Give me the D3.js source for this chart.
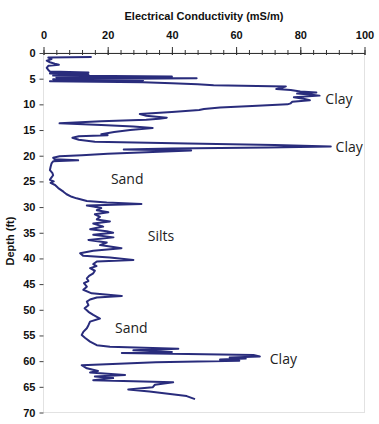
<!DOCTYPE html>
<html>
<head>
<meta charset="utf-8">
<script src="https://cdn.jsdelivr.net/npm/d3@7"></script>
<style>
  html, body { margin: 0; padding: 0; background: #fff; }
  svg { display: block; }
</style>
</head>
<body>
<svg id="chart" width="379" height="424"></svg>
<script>
// ---- Data ----
const depthFt = [
  0.8, 0.9, 1.2, 1.5, 1.8, 2.1, 2.3, 2.5, 2.9, 3.3, 3.6, 3.8, 4.0, 4.2, 4.4, 4.6, 4.7, 4.9, 5.1, 5.3,
  5.5, 5.7, 5.9, 6.1, 6.3, 6.5, 6.8, 7.0, 7.2, 7.5, 7.7, 7.9, 8.1, 8.3, 8.6, 8.9, 9.2, 9.5, 9.8, 10.0,
  10.3, 10.6, 10.9, 11.1, 11.5, 11.9, 12.2, 12.6, 12.8, 13.0, 13.3, 13.7, 14.0, 14.3, 14.6, 15.0, 15.4, 15.8, 16.0, 16.2,
  16.5, 16.9, 17.3, 17.6, 17.9, 18.2, 18.4, 18.6, 18.8, 19.0, 19.2, 19.4, 19.6, 19.9, 20.1, 20.4, 20.7, 20.9, 21.1, 21.5,
  22.2, 22.8, 23.4, 23.8, 24.3, 24.7, 25.0, 25.3, 25.7, 26.3, 27.0, 27.5, 28.0, 28.3, 28.8, 29.1, 29.4, 29.7, 29.9, 30.2,
  30.6, 31.0, 31.4, 31.9, 32.4, 32.8, 33.2, 33.8, 34.3, 34.7, 35.0, 35.4, 35.9, 36.4, 36.9, 37.4, 38.0, 38.5, 39.0, 39.5,
  39.8, 40.3, 40.6, 41.1, 41.5, 41.9, 42.4, 42.9, 43.4, 43.9, 44.4, 44.8, 45.5, 46.1, 46.8, 47.3, 47.6, 48.0, 48.4, 49.1,
  49.7, 50.4, 51.0, 51.7, 52.3, 53.0, 53.6, 54.3, 54.9, 55.5, 56.2, 56.9, 57.2, 57.6, 57.9, 58.2, 58.4, 58.8, 59.1, 59.3,
  59.5, 59.7, 59.9, 60.2, 60.8, 61.4, 61.9, 62.2, 62.7, 63.0, 63.3, 63.7, 64.1, 64.6, 65.1, 65.5, 65.9, 66.8, 67.4
];
const conductivity = [
  15, 1.5, 2.5, 1, 2, 3.5, 4.8, 1.5, 1, 1.5, 2, 14, 2, 14, 3, 40, 4, 47.7, 3, 31,
  2, 31, 40, 48, 53, 75.5, 74, 72.5, 77, 80, 85, 79, 83, 86, 78, 81, 83, 77.5, 77, 76,
  65, 55, 50, 48.5, 40, 30, 32, 38.4, 36, 32, 18, 5, 18, 28, 34, 27, 22, 18, 20, 11,
  9, 11, 16, 45, 72, 89.5, 70, 40, 25, 46, 38, 28, 20, 12, 5, 3, 3.5, 10.8, 3, 2.5,
  2.2, 2, 2.8, 3, 2.4, 2, 3.2, 2.2, 3.6, 4.6, 6.2, 7.2, 8.8, 10.3, 13.5, 19.7, 30.5, 13.5, 15.5, 18,
  16.6, 20.2, 16, 17.6, 16.6, 20.7, 15.5, 18.6, 14.5, 19.7, 21.7, 15.5, 21.8, 14, 19.7, 17.6, 24.3, 15.5, 11.4, 12.4,
  20.7, 28, 16.6, 15.5, 16.5, 14.5, 16, 15.5, 14.2, 13.5, 14, 12.6, 13.5, 12.4, 15, 24.4, 16.6, 14.5, 13.5, 14,
  12.8, 14, 15.5, 17.6, 14.5, 14, 13.5, 12.4, 11.9, 13, 14.5, 16.6, 20.7, 42, 28, 40, 24.4, 65.4, 67.4, 58,
  63, 55, 61, 35, 11.9, 13.5, 17, 14.5, 25.4, 16, 21.7, 15.5, 40.4, 34.7, 34, 26.4, 33, 44.6, 47.2
];
const xMajorTicks = [0, 20, 40, 60, 80, 100];
const xMinorTicks = d3.range(0, 101, 4);
const yTicks = [0, 5, 10, 15, 20, 25, 30, 35, 40, 45, 50, 55, 60, 65, 70];
const xTitle = "Electrical Conductivity (mS/m)";
const yTitle = "Depth (ft)";
const labelText = ["Clay", "Clay", "Sand", "Silts", "Sand", "Clay"];
const labelDepth = [9.9, 19.2, 25.5, 36.7, 54.5, 60.6];
const labelValue = [87.8, 91, 21, 32.5, 22.3, 70.5];

// ---- Layout ----
const mLeft = 43.5, mRight = 364.5, mTop = 53, mBottom = 412.5;
const svg = d3.select("#chart");
const x = d3.scaleLinear().domain([0, 100]).range([mLeft, mRight]);
const y = d3.scaleLinear().domain([0, 70]).range([mTop, mBottom]);
const axisFont = "'Liberation Sans', Arial, sans-serif";
const lineColor = "#292c7c";

// plot frame (light)
svg.append("rect")
  .attr("x", mLeft).attr("y", mTop)
  .attr("width", mRight - mLeft).attr("height", mBottom - mTop)
  .attr("fill", "none").attr("stroke", "#e2e2e2").attr("stroke-width", 1);

// minor ticks on top axis
svg.append("g")
  .attr("transform", `translate(0,${mTop})`)
  .call(d3.axisTop(x).tickValues(xMinorTicks).tickSize(3).tickFormat(""))
  .call(g => g.select(".domain").remove())
  .call(g => g.selectAll("line").attr("stroke", "#333").attr("y2", -3).attr("y1", 2));

// major top axis
const gx = svg.append("g")
  .attr("transform", `translate(0,${mTop})`)
  .call(d3.axisTop(x).tickValues(xMajorTicks).tickSize(6).tickSizeOuter(0).tickPadding(8));
gx.select(".domain").attr("stroke", "#333").attr("stroke-width", 1);
gx.selectAll("line").attr("stroke", "#333").attr("y1", 2);
gx.selectAll("text")
  .attr("font-family", axisFont).attr("font-size", 11).attr("font-weight", "bold").attr("fill", "#111");

// left axis
const gy = svg.append("g")
  .attr("transform", `translate(${mLeft},0)`)
  .call(d3.axisLeft(y).tickValues(yTicks).tickSize(4).tickSizeOuter(0).tickPadding(4));
gy.select(".domain").remove();
gy.selectAll("line").attr("stroke", "#444");
gy.selectAll("text")
  .attr("font-family", axisFont).attr("font-size", 11).attr("font-weight", "bold").attr("fill", "#111");

// titles
svg.append("text")
  .attr("x", (mLeft + mRight) / 2).attr("y", 20)
  .attr("text-anchor", "middle")
  .attr("font-family", axisFont).attr("font-size", 11).attr("font-weight", "bold").attr("fill", "#111")
  .text(xTitle);
svg.append("text")
  .attr("transform", `translate(14,241) rotate(-90)`)
  .attr("text-anchor", "middle")
  .attr("font-family", axisFont).attr("font-size", 11).attr("font-weight", "bold").attr("fill", "#111")
  .text(yTitle);

// conductivity log line
const pts = depthFt.map((d, i) => [conductivity[i], d]);
const line = d3.line().x(p => x(p[0])).y(p => y(p[1]));
svg.append("path")
  .datum(pts)
  .attr("d", line)
  .attr("fill", "none")
  .attr("stroke", lineColor)
  .attr("stroke-width", 2)
  .attr("stroke-linejoin", "round");

// annotations
labelText.forEach((t, i) => {
  svg.append("text")
    .attr("x", x(labelValue[i]))
    .attr("y", y(labelDepth[i]))
    .attr("font-family", "'Open Sans', sans-serif")
    .attr("font-size", 14)
    .attr("fill", "#222")
    .text(t);
});
</script>
</body>
</html>
